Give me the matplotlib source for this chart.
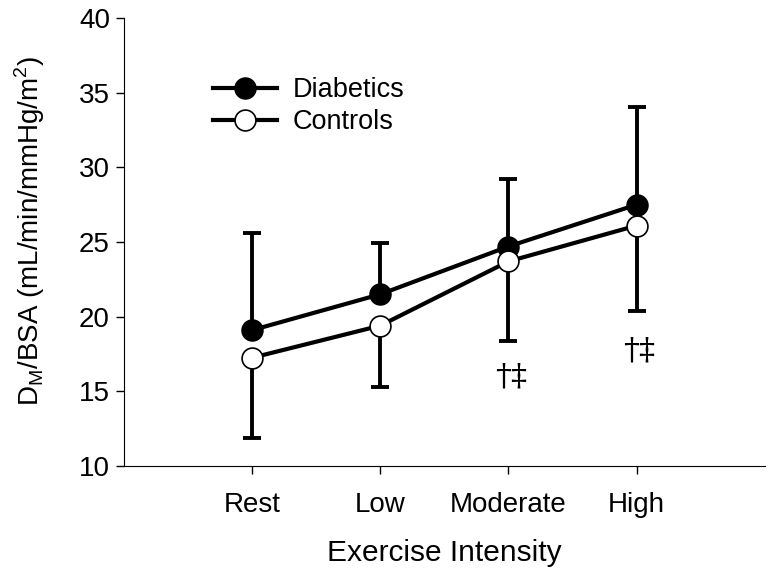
import matplotlib
matplotlib.use("Agg")
import matplotlib.pyplot as plt

categories = ["Rest", "Low", "Moderate", "High"]
diabetics = [19.1, 21.5, 24.7, 27.5]
diabetics_sd = [6.5, 3.45, 4.5, 6.55]
controls = [17.25, 19.4, 23.7, 26.1]
controls_sd = [5.35, 4.1, 5.3, 5.7]
sig_labels = ["", "", "\u2020\u2021", "\u2020\u2021"]
sig_y = [None, None, 15.95, 17.7]

plt.rcParams['font.family'] = ['Liberation Sans', 'DejaVu Sans']
plt.rcParams['mathtext.fontset'] = 'custom'
plt.rcParams['mathtext.rm'] = 'Liberation Sans'


def plot_chart(file_name="out.png"):
    fig = plt.figure(figsize=(7.74, 5.79), dpi=100)
    ax = fig.add_axes([0.160, 0.195, 0.828, 0.774])
    x = list(range(1, len(categories) + 1))

    # upper bars for diabetics, lower bars for controls
    ax.errorbar(x, diabetics, yerr=[[0] * 4, diabetics_sd], fmt='none',
                ecolor='black', elinewidth=2.8, capsize=6.5, capthick=2.8, zorder=2)
    ax.errorbar(x, controls, yerr=[controls_sd, [0] * 4], fmt='none',
                ecolor='black', elinewidth=2.8, capsize=6.5, capthick=2.8, zorder=2)
    ax.plot(x, diabetics, '-o', color='black', lw=3, ms=15, mfc='black',
            mec='black', mew=1.2, label="Diabetics", zorder=3)
    ax.plot(x, controls, '-o', color='black', lw=3, ms=15, mfc='white',
            mec='black', mew=1.2, label="Controls", zorder=3)

    for xi, lab, yi in zip(x, sig_labels, sig_y):
        if lab:
            ax.text(xi + 0.02, yi, lab, ha='center', va='center', fontsize=23,
                    family=['DejaVu Serif'])

    ax.set_xlim(0, 5)
    ax.set_ylim(10, 40)
    ax.set_xticks(x)
    ax.set_xticklabels(categories)
    ax.set_yticks(range(10, 41, 5))
    ax.tick_params(axis='both', labelsize=20, direction='out', length=6, width=1)
    ax.tick_params(axis='x', pad=13)
    ax.tick_params(axis='y', pad=4)
    ax.spines['top'].set_visible(False)
    ax.spines['right'].set_visible(False)
    ax.set_xlabel("Exercise Intensity", fontsize=21.5, labelpad=15)
    ax.set_ylabel(r'D$_\mathregular{M}$/BSA (mL/min/mmHg/m$^\mathregular{2}$)',
                  fontsize=20)
    ax.yaxis.set_label_coords(-0.12, 0.525)

    ax.legend(loc='upper left', bbox_to_anchor=(0.101, 0.922), frameon=False,
              fontsize=19.5, handlelength=2.35, handletextpad=0.6, labelspacing=0.22)

    fig.savefig(file_name, dpi=100)
    plt.close(fig)


if __name__ == "__main__":
    plot_chart()
